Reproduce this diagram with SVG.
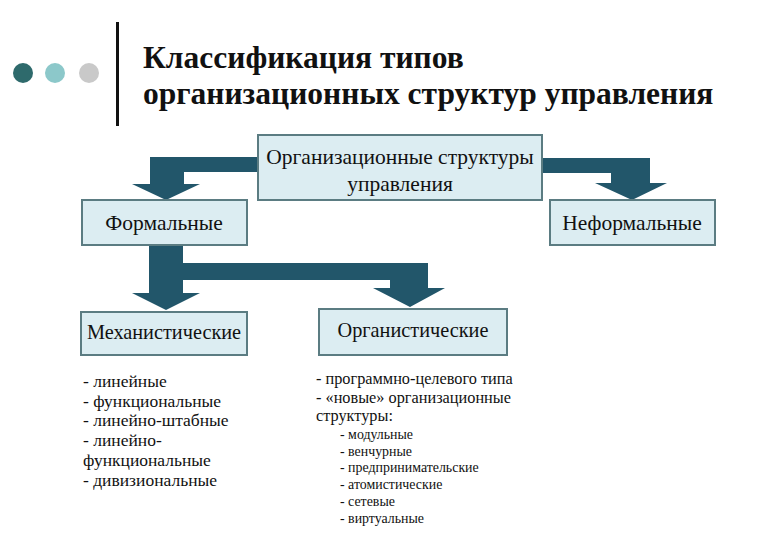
<svg xmlns="http://www.w3.org/2000/svg" width="780" height="540" viewBox="0 0 780 540">
<style>
.box{fill:#dcedf2;stroke:#5b7c82;stroke-width:2}
.arr{fill:#22566a}
.t{font-family:"Liberation Serif","Times New Roman","DejaVu Serif",serif;fill:#111}
.bt{font-size:21.5px;text-anchor:middle}
.bs{font-size:20.3px}
.title{font-size:31.5px;font-weight:bold}
.li{font-size:17.5px}
.li2{font-size:16.3px}
.sub{font-size:13.9px}
</style>
<rect width="780" height="540" fill="#ffffff"/>
<g id="header">
<circle cx="23" cy="73" r="10" fill="#2e6a6c"/>
<circle cx="55" cy="73" r="10" fill="#8cc8ca"/>
<circle cx="89" cy="73" r="10" fill="#c9c9c9"/>
<rect x="116" y="22" width="3" height="104" fill="#111"/>
<text class="t title" x="143" y="68">Классификация типов</text>
<text class="t title" x="143" y="104">организационных структур управления</text>
</g>
<g id="connectors">
<path class="arr" d="M258,157 L150,157 L150,184 L132,184 L166,200 L200,184 L184,184 L184,172 L258,172 Z"/>
<path class="arr" d="M542,158 L650,158 L650,183 L667,183 L632,200 L595,183 L611,183 L611,173 L542,173 Z"/>
<path class="arr" d="M149,245 L183,245 L183,263 L428,263 L428,288 L445,288 L410,307 L373,288 L390,288 L390,280 L183,280 L183,293 L200,293 L166,310 L132,293 L149,293 Z"/>
</g>
<g id="root">
<rect class="box" x="258" y="135" width="284" height="65"/>
<text class="t bt" x="400" y="164">Организационные структуры</text>
<text class="t bt" x="400" y="191">управления</text>
</g>
<g id="formal">
<rect class="box" x="82" y="200" width="165" height="45"/>
<text class="t bt" x="164" y="230">Формальные</text>
</g>
<g id="informal">
<rect class="box" x="550" y="200" width="165" height="45"/>
<text class="t bt" x="632" y="230">Неформальные</text>
</g>
<g id="mech">
<rect class="box" x="81" y="312" width="166" height="43"/>
<text class="t bt bs" x="164" y="339">Механистические</text>
</g>
<g id="org">
<rect class="box" x="319" y="309" width="188" height="46"/>
<text class="t bt bs" x="413" y="337">Органистические</text>
</g>
<g id="mech-list">
<text class="t li" x="83" y="387">- линейные</text>
<text class="t li" x="83" y="407">- функциональные</text>
<text class="t li" x="83" y="426">- линейно-штабные</text>
<text class="t li" x="83" y="446">- линейно-</text>
<text class="t li" x="83" y="466">функциональные</text>
<text class="t li" x="83" y="486">- дивизиональные</text>
</g>
<g id="org-list">
<text class="t li2" x="316" y="384">- программно-целевого типа</text>
<text class="t li2" x="316" y="403">- «новые» организационные</text>
<text class="t li2" x="316" y="421">структуры:</text>
<text class="t sub" x="340" y="439">- модульные</text>
<text class="t sub" x="340" y="456">- венчурные</text>
<text class="t sub" x="340" y="472">- предпринимательские</text>
<text class="t sub" x="340" y="489">- атомистические</text>
<text class="t sub" x="340" y="506">- сетевые</text>
<text class="t sub" x="340" y="523">- виртуальные</text>
</g>
</svg>
